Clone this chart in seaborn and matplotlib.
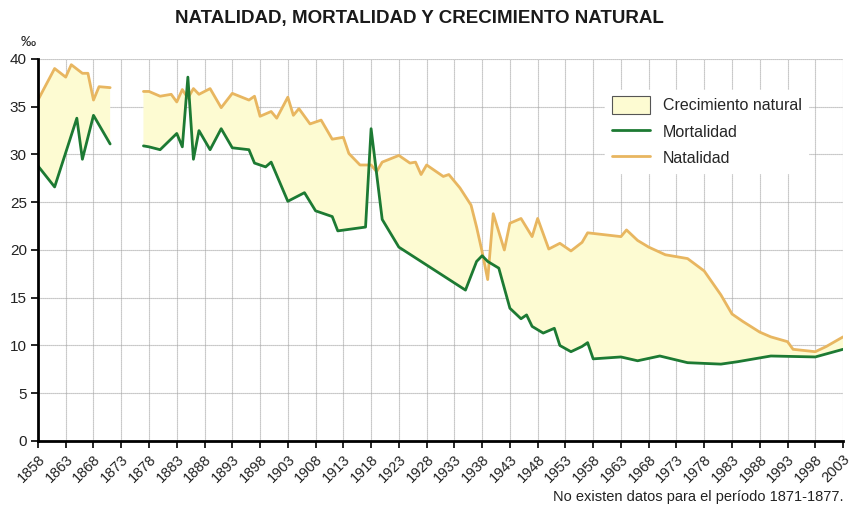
import numpy as np
import pandas as pd
import matplotlib
matplotlib.use("Agg")
import matplotlib.pyplot as plt
from matplotlib.patches import Patch
from matplotlib.lines import Line2D
import seaborn as sns

# Tasas por mil habitantes. Dos tramos: no hay datos entre ambos.
anios_nat_1 = [1858, 1861, 1863, 1864, 1866, 1867, 1868, 1869, 1871]
natalidad_1 = [35.7, 39.0, 38.1, 39.4, 38.5, 38.5, 35.7, 37.1, 37.0]
anios_mort_1 = [1858, 1861, 1865, 1866, 1868, 1871]
mortalidad_1 = [28.8, 26.6, 33.8, 29.5, 34.1, 31.1]

anios_nat_2 = [1877, 1878, 1880, 1882, 1883, 1884, 1885, 1886, 1887, 1889,
               1891, 1893, 1896, 1897, 1898, 1900, 1901, 1903, 1904, 1905,
               1907, 1909, 1911, 1913, 1914, 1916, 1918, 1919, 1920, 1923,
               1925, 1926, 1927, 1928, 1931, 1932, 1934, 1936, 1937, 1938,
               1939, 1940, 1942, 1943, 1945, 1947, 1948, 1950, 1952, 1954,
               1956, 1957, 1963, 1964, 1966, 1968, 1971, 1975, 1978, 1981,
               1983, 1985, 1988, 1990, 1993, 1994, 1998, 2000, 2003]
natalidad_2 = [36.6, 36.6, 36.1, 36.3, 35.5, 36.8, 35.9, 36.9, 36.3, 36.9,
               34.9, 36.4, 35.7, 36.1, 34.0, 34.5, 33.8, 36.0, 34.1, 34.8,
               33.2, 33.6, 31.6, 31.8, 30.1, 28.9, 28.9, 28.2, 29.2, 29.9,
               29.1, 29.2, 27.9, 28.9, 27.7, 27.9, 26.5, 24.7, 22.4, 19.8,
               16.9, 23.8, 20.0, 22.8, 23.3, 21.4, 23.3, 20.1, 20.7, 19.9,
               20.8, 21.8, 21.4, 22.1, 21.0, 20.3, 19.5, 19.1, 17.8, 15.3,
               13.3, 12.5, 11.4, 10.9, 10.4, 9.6, 9.35, 9.9, 10.9]
anios_mort_2 = [1877, 1878, 1880, 1883, 1884, 1885, 1886, 1887, 1889, 1891,
                1893, 1896, 1897, 1899, 1900, 1903, 1906, 1908, 1911, 1912,
                1917, 1918, 1920, 1923, 1935, 1937, 1938, 1939, 1941, 1943,
                1945, 1946, 1947, 1949, 1951, 1952, 1954, 1956, 1957, 1958,
                1963, 1966, 1970, 1975, 1981, 1984, 1990, 1998, 2003]
mortalidad_2 = [30.9, 30.8, 30.5, 32.2, 30.8, 38.1, 29.5, 32.5, 30.5, 32.7,
                30.7, 30.5, 29.1, 28.7, 29.2, 25.1, 26.0, 24.1, 23.5, 22.0,
                22.4, 32.7, 23.2, 20.3, 15.8, 18.8, 19.4, 18.8, 18.1, 13.9,
                12.8, 13.2, 12.0, 11.3, 11.8, 10.0, 9.35, 9.9, 10.3, 8.6,
                8.8, 8.4, 8.9, 8.2, 8.05, 8.3, 8.9, 8.8, 9.6]

anios_eje = list(range(1858, 2004, 5))
valores_eje = [0, 5, 10, 15, 20, 25, 30, 35, 40]

COLOR_NAT = "#e8b660"
COLOR_MORT = "#1d7a33"
COLOR_CREC = "#fdfbd2"

nat = pd.DataFrame({
    "anio": anios_nat_1 + anios_nat_2,
    "tasa": natalidad_1 + natalidad_2,
    "tramo": [1] * len(anios_nat_1) + [2] * len(anios_nat_2),
})
mort = pd.DataFrame({
    "anio": anios_mort_1 + anios_mort_2,
    "tasa": mortalidad_1 + mortalidad_2,
    "tramo": [1] * len(anios_mort_1) + [2] * len(anios_mort_2),
})

sns.set_style("white")
plt.rcParams["font.family"] = ["Liberation Sans", "DejaVu Sans"]

fig = plt.figure(figsize=(8.57, 5.08), dpi=100)
ax = fig.add_axes([0.0443, 0.1319, 0.9394, 0.752])

# Crecimiento natural: superficie entre natalidad y mortalidad, por tramo
for t in (1, 2):
    n = nat[nat.tramo == t]
    m = mort[mort.tramo == t]
    xs = np.concatenate([n.anio.values, m.anio.values[::-1]])
    ys = np.concatenate([n.tasa.values, m.tasa.values[::-1]])
    ax.fill(xs, ys, color=COLOR_CREC, lw=0, zorder=1)

sns.lineplot(data=nat, x="anio", y="tasa", units="tramo", estimator=None,
             color=COLOR_NAT, lw=2.0, ax=ax, zorder=3)
sns.lineplot(data=mort, x="anio", y="tasa", units="tramo", estimator=None,
             color=COLOR_MORT, lw=2.0, ax=ax, zorder=4)

ax.set_xlim(1858, 2003)
ax.set_ylim(0, 40)
ax.set_xticks(anios_eje)
ax.set_xticklabels([str(a) for a in anios_eje], rotation=45, ha="right",
                   rotation_mode="anchor", fontsize=10.5, color="#222222")
ax.set_yticks(valores_eje)
ax.set_yticklabels([str(v) for v in valores_eje], fontsize=11, color="#222222")
ax.set_xlabel("")
ax.set_ylabel("")

ax.grid(True, color="#a5a5a5", lw=0.8, linestyle=(0, (1, 0.8)), zorder=0)
ax.set_axisbelow(True)
for lado in ("top", "right"):
    ax.spines[lado].set_visible(False)
for lado in ("left", "bottom"):
    ax.spines[lado].set_color("black")
    ax.spines[lado].set_linewidth(2.0)
    ax.spines[lado].set_zorder(5)
ax.tick_params(axis="both", which="major", direction="out", length=5,
               width=1.2, color="black", pad=3, bottom=True, left=True)

handles = [
    Patch(facecolor=COLOR_CREC, edgecolor="#555555", linewidth=0.8),
    Line2D([], [], color=COLOR_MORT, lw=2.0),
    Line2D([], [], color=COLOR_NAT, lw=2.0),
]
etiquetas = ["Crecimiento natural", "Mortalidad", "Natalidad"]
leg = ax.legend(handles, etiquetas, loc="upper left",
                bbox_to_anchor=(0.695, 0.94), fontsize=11.5,
                frameon=True, facecolor="white", edgecolor="white",
                framealpha=1.0, fancybox=False, handlelength=2.4,
                handleheight=1.3, handletextpad=0.8, labelspacing=0.56,
                borderpad=0.4)
leg.set_zorder(6)

fig.text(0.49, 0.963, "NATALIDAD, MORTALIDAD Y CRECIMIENTO NATURAL",
         ha="center", va="center", fontsize=13.5, fontweight="bold",
         color="#1a1a1a")
fig.text(0.033, 0.917, "‰", ha="center", va="center", fontsize=11,
         color="#222222")
fig.text(0.9837, 0.022, "No existen datos para el período 1871-1877.",
         ha="right", va="center", fontsize=10.5, color="#222222")

fig.savefig("out.png", dpi=100, facecolor="white")
